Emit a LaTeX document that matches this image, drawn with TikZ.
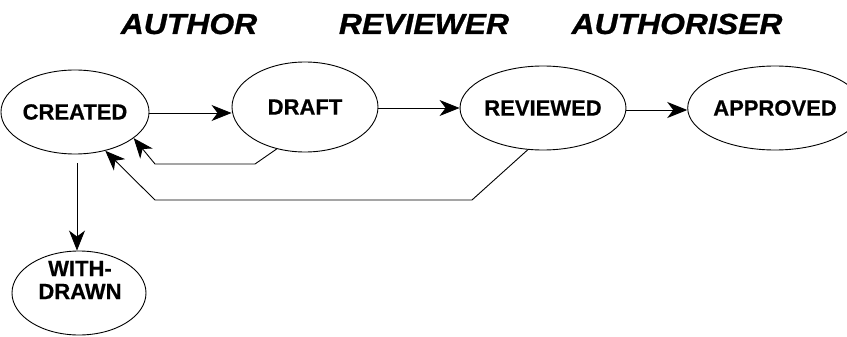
\documentclass[tikz,border=0pt]{standalone}
\usepackage{fontspec}
\setmainfont{Liberation Sans}
\newfontfamily\statefont[FakeBold=0.6]{Liberation Sans Bold}
\newfontfamily\rolefont[FakeBold=0.8]{Liberation Sans Bold Italic}
\usetikzlibrary{shapes.geometric,arrows.meta}
\begin{document}
\begin{tikzpicture}[x=1pt,y=-1pt,
  state/.style={ellipse,draw,line width=0.9pt,inner sep=0pt,
    font=\fontsize{22}{24}\statefont},
  role/.style={font=\fontsize{29}{32}\rolefont},
  flow/.style={line width=0.9pt,-{Stealth[length=20pt,width=16pt,inset=6pt]}}]
\useasboundingbox (0,0) rectangle (847,337);
% roles
\node[role] (rauthor) at (189,24) {\scalebox{1.1}[1]{AUTHOR}};
\node[role] (rreviewer) at (424,24) {\scalebox{1.1}[1]{REVIEWER}};
\node[role] (rauthoriser) at (677,24) {\scalebox{1.1}[1]{AUTHORISER}};
% states
\node[state,minimum width=138,minimum height=84] (created) at (75,112) {CREATED};
\node[state,minimum width=146,minimum height=90] (draft) at (305,107) {DRAFT};
\node[state,minimum width=143,minimum height=84] (reviewed) at (543,108) {REVIEWED};
\node[state,minimum width=141,minimum height=84] (approved) at (775,108) {APPROVED};
\node[state,minimum width=134,minimum height=84] (withdrawn) at (79,293) {};
\node[font=\fontsize{22}{23}\statefont,align=center] (withdrawntext) at (80,280) {WITH-\\DRAWN};
% forward transitions
\draw[flow] (created.east |- 0,113) -- (draft.west |- 0,113);
\draw[flow] (draft.east |- 0,108) -- (reviewed.west |- 0,108);
\draw[flow] (reviewed.east |- 0,110) -- (approved.west |- 0,110);
% returns to CREATED
\coordinate (d1) at (255,164);
\coordinate (d2) at (155,164);
\draw[flow] (draft.236) -- (d1) -- (d2) -- (created.-24);
\coordinate (r1) at (472,200);
\coordinate (r2) at (155,200);
\draw[flow] (reviewed.-110) -- (r1) -- (r2) -- (created.-52);
% withdrawal
\draw[flow,shorten <=9pt] (created.south -| 77,0) -- (withdrawn.north -| 77,0);
\end{tikzpicture}
\end{document}
